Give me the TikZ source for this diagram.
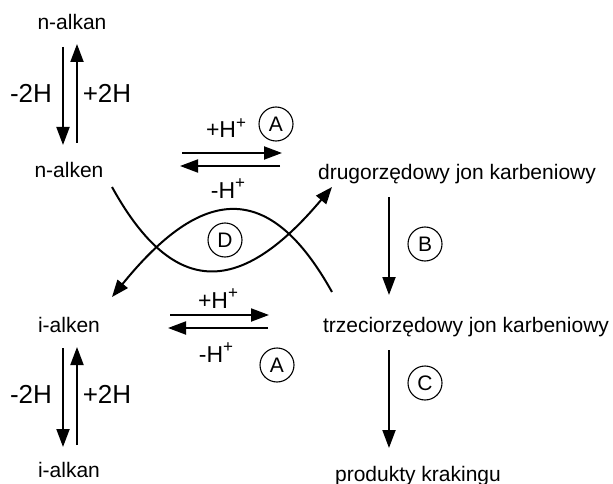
\documentclass[tikz,border=0pt]{standalone}
\usepackage{fontspec}
\setmainfont{Liberation Sans}
\usetikzlibrary{arrows.meta}
% raised charge sign after H
\newcommand{\chargeplus}{\raisebox{0.42em}{\fontsize{17}{17}\selectfont +}}
\begin{document}
\begin{tikzpicture}[x=1pt,y=-1pt,
  lbl/.style={inner sep=0pt,anchor=base,font=\fontsize{21}{25}\selectfont},
  hlbl/.style={inner sep=0pt,anchor=base,font=\fontsize{26}{30}\selectfont},
  plbl/.style={inner sep=0pt,anchor=base,font=\fontsize{23}{27}\selectfont},
  tag/.style={circle,draw,line width=1.1pt,minimum size=34pt,inner sep=0pt,
              font=\fontsize{21}{25}\selectfont},
  arr/.style={line width=2pt,-{Triangle[length=18pt,width=13pt]}},
  curvearr/.style={line width=2pt,-{Triangle[length=17pt,width=13pt]}}]
\useasboundingbox (0,0) rectangle (613,484);

% species
\node[lbl] (nalkan) at (72,30) {n-alkan};
\node[lbl] (nalken) at (69,177) {n-alken};
\node[lbl] (ialken) at (69,332) {i-alken};
\node[lbl] (ialkan) at (69,477) {i-alkan};
\node[lbl] (sec) at (457,179) {drugorzędowy jon karbeniowy};
\node[lbl] (tert) at (466,332) {trzeciorzędowy jon karbeniowy};
\node[lbl] (prod) at (418,481) {produkty krakingu};

% hydrogenation / dehydrogenation labels
\node[hlbl] (m2ha) at (31,103) {-2H};
\node[hlbl] (p2ha) at (107,103) {+2H};
\node[hlbl] (m2hb) at (31,403) {-2H};
\node[hlbl] (p2hb) at (107,403) {+2H};

% protonation labels
\node[plbl] (phA) at (226,138) {+H\chargeplus};
\node[plbl] (mhA) at (228,198) {-H\chargeplus};
\node[plbl] (phB) at (218,308) {+H\chargeplus};
\node[plbl] (mhB) at (216,362) {-H\chargeplus};

% step tags
\node[tag] (tA1) at (276,124) {A};
\node[tag] (tB) at (425,244) {B};
\node[tag] (tC) at (425,383) {C};
\node[tag] (tD) at (225,240) {D};
\node[tag] (tA2) at (277,365) {A};

% arrow end points
\coordinate (a1s) at (63,47);   \coordinate (a1e) at (63,145);
\coordinate (a2s) at (77,143);  \coordinate (a2e) at (77,44);
\coordinate (a3s) at (63,348);  \coordinate (a3e) at (63,447);
\coordinate (a4s) at (77,445);  \coordinate (a4e) at (77,347);
\coordinate (h1s) at (182,153); \coordinate (h1e) at (282,153);
\coordinate (h2s) at (280,166); \coordinate (h2e) at (180,166);
\coordinate (h3s) at (170,315); \coordinate (h3e) at (269,315);
\coordinate (h4s) at (268,328); \coordinate (h4e) at (168,328);
\coordinate (bs) at (389,197);  \coordinate (be) at (389,295);
\coordinate (cs) at (389,350);  \coordinate (ce) at (389,448);
\coordinate (u1) at (112,187);  \coordinate (u2) at (332,187);
\coordinate (n1) at (332,292);  \coordinate (n2) at (112,297);

% vertical equilibria
\draw[arr] (a1s) -- (a1e);
\draw[arr] (a2s) -- (a2e);
\draw[arr] (a3s) -- (a3e);
\draw[arr] (a4s) -- (a4e);

% horizontal equilibria
\draw[arr] (h1s) -- (h1e);
\draw[arr] (h2s) -- (h2e);
\draw[arr] (h3s) -- (h3e);
\draw[arr] (h4s) -- (h4e);

% rearrangement and cracking
\draw[arr] (bs) -- (be);
\draw[arr] (cs) -- (ce);

% crossing paths
\draw[curvearr] (u1) .. controls (175,301) and (242,294) .. (u2);
\draw[curvearr] (n1) .. controls (269,179) and (202,186) .. (n2);
\end{tikzpicture}
\end{document}
